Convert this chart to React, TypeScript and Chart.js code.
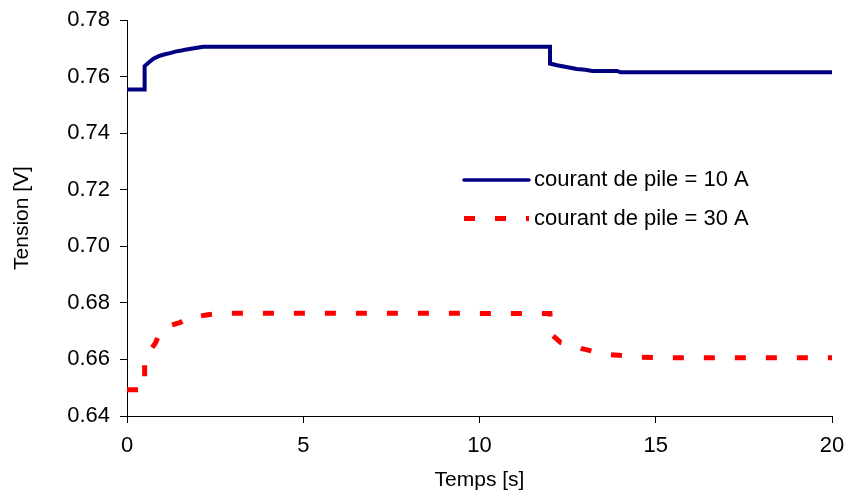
import React, { useEffect, useRef } from "react";
import { Chart, registerables } from "chart.js";

Chart.register(...registerables);

// ---- data ----
const seriesLabels = ["courant de pile = 10 A", "courant de pile = 30 A"];

const timeTicks = [0, 5, 10, 15, 20];
const voltTicks = [0.64, 0.66, 0.68, 0.7, 0.72, 0.74, 0.76, 0.78];

const blueTime = [0, 0.5, 0.5, 0.6, 0.75, 0.9, 1.05, 1.22, 1.4, 1.55, 1.69, 1.9, 2.16, 2.4, 5, 8, 11, 12.0, 12.0, 12.2, 12.46, 12.76, 13.0, 13.2, 13.9, 14.0, 15, 17, 20];
const blueVolt = [0.7554, 0.7554, 0.7637, 0.7648, 0.7663, 0.7672, 0.7678, 0.7683, 0.7689, 0.7692, 0.7696, 0.77, 0.7705, 0.7705, 0.7705, 0.7705, 0.7705, 0.7705, 0.7646, 0.764, 0.7634, 0.7627, 0.7624, 0.762, 0.762, 0.7615, 0.7615, 0.7615, 0.7615];

const redTime = [0, 0.5, 0.5, 0.6, 0.8, 0.9, 1.05, 1.2, 1.5, 1.76, 2.0, 2.3, 2.6, 3, 6, 9, 12.0, 12.05, 12.3, 12.6, 12.9, 13.35, 13.6, 14.1, 14.4, 15, 17, 20];
const redVolt = [0.6493, 0.6493, 0.66, 0.6623, 0.6656, 0.6684, 0.6702, 0.6719, 0.673, 0.675, 0.6752, 0.6758, 0.6762, 0.6763, 0.6763, 0.6763, 0.6762, 0.6688, 0.666, 0.6652, 0.6638, 0.6625, 0.6618, 0.6613, 0.6609, 0.6606, 0.6606, 0.6606];

const FONT = "'Liberation Sans', Arial, Helvetica, sans-serif";
const BLUE = "#000080";
const RED = "#FF0000";

const toPoints = (xs: number[], ys: number[]) => xs.map((x, i) => ({ x, y: ys[i] }));

const inlineLegend = {
  id: "inlineLegend",
  afterDraw(chart: any) {
    const { ctx, chartArea } = chart;
    const lineStart = chartArea.left + 337;
    const lineEnd = chartArea.left + 402;
    const textX = chartArea.left + 407;
    const rows = [chartArea.top + 160, chartArea.top + 198.5];
    ctx.save();
    chart.data.datasets.forEach((ds: any, i: number) => {
      const y = rows[i];
      ctx.beginPath();
      ctx.strokeStyle = ds.borderColor;
      ctx.lineWidth = i === 0 ? 3.5 : 5;
      ctx.lineCap = i === 0 ? "round" : "butt";
      ctx.setLineDash(ds.borderDash || []);
      ctx.moveTo(lineStart, y);
      ctx.lineTo(lineEnd, y);
      ctx.stroke();
      ctx.setLineDash([]);
      ctx.fillStyle = "#000";
      ctx.font = `22px ${FONT}`;
      ctx.textBaseline = "middle";
      ctx.textAlign = "left";
      ctx.fillText(ds.label, textX, y);
    });
    ctx.restore();
  },
};

export default function App() {
  const ref = useRef<HTMLCanvasElement | null>(null);

  useEffect(() => {
    if (!ref.current) return;
    const chart = new Chart(ref.current, {
      type: "line",
      data: {
        datasets: [
          {
            label: seriesLabels[0],
            data: toPoints(blueTime, blueVolt),
            borderColor: BLUE,
            backgroundColor: BLUE,
            borderWidth: 4,
            pointRadius: 0,
            tension: 0,
            fill: false,
          },
          {
            label: seriesLabels[1],
            data: toPoints(redTime, redVolt),
            borderColor: RED,
            backgroundColor: RED,
            borderWidth: 5,
            borderDash: [11, 20],
            borderCapStyle: "butt",
            pointRadius: 0,
            tension: 0,
            fill: false,
          },
        ],
      },
      options: {
        responsive: false,
        animation: false,
        devicePixelRatio: 1,
        layout: { padding: { left: 0, top: 20, right: 14, bottom: 0 } },
        plugins: {
          legend: { display: false },
          tooltip: { enabled: false },
        },
        scales: {
          x: {
            type: "linear",
            min: 0,
            max: 20,
            afterFit: (s: any) => {
              s.height = 86;
              s.paddingLeft = 0;
              s.paddingRight = 0;
            },
            afterBuildTicks: (s: any) => {
              s.ticks = timeTicks.map((v) => ({ value: v }));
            },
            border: { display: true, color: "#000", width: 1 },
            grid: { display: true, drawOnChartArea: false, drawTicks: true, tickLength: 7, color: "#000" },
            ticks: {
              color: "#000",
              padding: 10,
              maxRotation: 0,
              font: { family: FONT, size: 22 },
              callback: (v: any) => String(v),
            },
            title: {
              display: true,
              text: "Temps [s]",
              color: "#000",
              font: { family: FONT, size: 21 },
              padding: { top: 0, bottom: 9 },
            },
          },
          y: {
            type: "linear",
            min: 0.64,
            max: 0.78,
            afterFit: (s: any) => {
              s.width = 127;
              s.paddingTop = 0;
              s.paddingBottom = 0;
            },
            afterBuildTicks: (s: any) => {
              s.ticks = voltTicks.map((v) => ({ value: v }));
            },
            border: { display: true, color: "#000", width: 1 },
            grid: { display: true, drawOnChartArea: false, drawTicks: true, tickLength: 7, color: "#000" },
            ticks: {
              color: "#000",
              padding: 10,
              font: { family: FONT, size: 22 },
              callback: (v: any) => Number(v).toFixed(2),
            },
            title: {
              display: true,
              text: "Tension [V]",
              color: "#000",
              font: { family: FONT, size: 21 },
              padding: { top: 10, bottom: 0 },
            },
          },
        },
      },
      plugins: [inlineLegend],
    });
    return () => chart.destroy();
  }, []);

  return (
    <div style={{ position: "fixed", left: 0, top: 0, width: 846, height: 502, background: "#fff" }}>
      <canvas ref={ref} width={846} height={502} style={{ display: "block" }} />
    </div>
  );
}
